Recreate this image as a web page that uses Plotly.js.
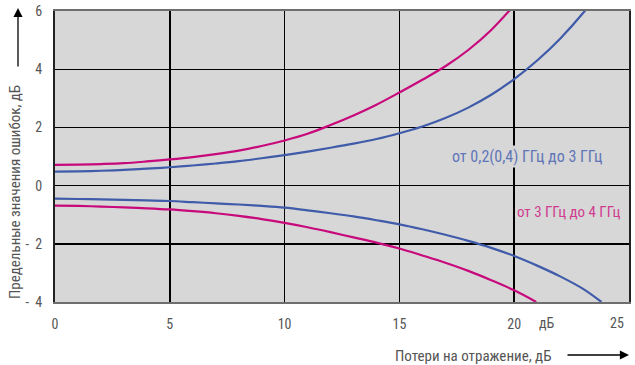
<!DOCTYPE html>
<html>
<head>
<meta charset="utf-8">
<script src="https://cdn.plot.ly/plotly-3.0.1.min.js"></script>
<style>html,body{margin:0;padding:0;background:#fff;}#chart{width:635px;height:365px;}</style>
</head>
<body>
<div id="chart"></div>
<script>
// Upper / lower limits, 0.2(0.4)–3 GHz (blue)
const blueUpperX = [0, 1, 2, 3, 4, 5, 6, 7, 8, 9, 10, 11, 12, 13, 14, 15, 16, 17, 18, 19, 20, 21, 22, 23, 23.5];
const blueUpperY = [0.48, 0.49, 0.51, 0.54, 0.58, 0.63, 0.69, 0.76, 0.84, 0.94, 1.05, 1.17, 1.30, 1.44, 1.60, 1.80, 2.03, 2.32, 2.68, 3.12, 3.66, 4.30, 5.05, 5.93, 6.45];
const blueLowerX = [0, 1, 2, 3, 4, 5, 6, 7, 8, 9, 10, 11, 12, 13, 14, 15, 16, 17, 18, 19, 20, 21, 22, 23, 23.8];
const blueLowerY = [-0.45, -0.46, -0.47, -0.49, -0.51, -0.53, -0.57, -0.61, -0.65, -0.70, -0.76, -0.85, -0.95, -1.06, -1.19, -1.33, -1.50, -1.69, -1.90, -2.14, -2.42, -2.75, -3.12, -3.55, -4.0];
// Upper / lower limits, 3–4 GHz (magenta)
const magUpperX = [0, 1, 2, 3, 4, 5, 6, 7, 8, 9, 10, 11, 12, 13, 14, 15, 16, 17, 18, 19, 20];
const magUpperY = [0.71, 0.72, 0.74, 0.77, 0.83, 0.90, 0.98, 1.08, 1.20, 1.36, 1.55, 1.78, 2.08, 2.41, 2.78, 3.20, 3.64, 4.10, 4.66, 5.35, 6.20];
const magLowerX = [0, 1, 2, 3, 4, 5, 6, 7, 8, 9, 10, 11, 12, 13, 14, 15, 16, 17, 18, 19, 20, 20.96];
const magLowerY = [-0.69, -0.70, -0.72, -0.75, -0.78, -0.82, -0.88, -0.95, -1.04, -1.15, -1.28, -1.43, -1.60, -1.78, -1.96, -2.16, -2.40, -2.65, -2.93, -3.25, -3.60, -4.0];

const xTicks = [0, 5, 10, 15, 20];
const xTickText = ['0', '5', '10', '15', '20'];
const yTicks = [-4, -2, 0, 2, 4, 6];
const yTickText = ['-\u20024', '-\u20022', '0', '2', '4', '6'];

const BLUE = '#3f5ba9';
const MAG = '#c8097c';
const FONT = '"Liberation Sans Narrow", "Arial Narrow", "Roboto Condensed", "Liberation Sans", sans-serif';
const GREY = '#555555';

const lineStyle = (c) => ({color: c, width: 2.2, shape: 'spline', smoothing: 1});
const traces = [
  {x: blueUpperX, y: blueUpperY, mode: 'lines', line: lineStyle(BLUE), hoverinfo: 'skip'},
  {x: blueLowerX, y: blueLowerY, mode: 'lines', line: lineStyle(BLUE), hoverinfo: 'skip'},
  {x: magUpperX, y: magUpperY, mode: 'lines', line: lineStyle(MAG), hoverinfo: 'skip'},
  {x: magLowerX, y: magLowerY, mode: 'lines', line: lineStyle(MAG), hoverinfo: 'skip'}
];

const layout = {
  width: 635, height: 365,
  margin: {l: 55, r: 6, t: 11, b: 63},
  paper_bgcolor: '#ffffff',
  plot_bgcolor: '#d7d7d7',
  showlegend: false,
  font: {family: FONT, color: GREY, size: 14},
  xaxis: {
    range: [0, 25], tickvals: xTicks, ticktext: xTickText,
    showgrid: true, gridcolor: '#000000', gridwidth: 1.6,
    zeroline: false, showline: true, linecolor: '#6e6e6e', linewidth: 2, mirror: true,
    ticks: 'outside', ticklen: 8, tickcolor: 'rgba(0,0,0,0)',
    tickfont: {family: FONT, size: 14, color: GREY}
  },
  yaxis: {
    range: [-4, 6], tickvals: yTicks, ticktext: yTickText,
    showgrid: true, gridcolor: '#000000', gridwidth: 1.4,
    zeroline: false, showline: true, linecolor: '#222222', linewidth: 2, mirror: true,
    ticks: 'outside', ticklen: 8, tickcolor: 'rgba(0,0,0,0)',
    tickfont: {family: FONT, size: 14, color: GREY}
  },
  annotations: [
    {x: 21.43, y: 0, xref: 'x', yref: 'paper', yanchor: 'middle', yshift: -21, text: 'дБ', showarrow: false,
     font: {family: FONT, size: 14, color: GREY}},
    {x: 24.48, y: 0, xref: 'x', yref: 'paper', yanchor: 'middle', yshift: -21, text: '25', showarrow: false,
     font: {family: FONT, size: 14, color: GREY}},
    {x: (528 - 55) / 23, y: (185.7 - 157) / 29, xref: 'x', yref: 'y', xanchor: 'center', yanchor: 'middle',
     text: 'от 0,2(0,4) ГГц до 3 ГГц', showarrow: false,
     bgcolor: '#d7d7d7', borderpad: 1, font: {family: FONT, size: 16, color: '#6176b8'}},
    {x: (570 - 55) / 23, y: (185.7 - 212) / 29, xref: 'x', yref: 'y', xanchor: 'center', yanchor: 'middle',
     text: 'от 3 ГГц до 4 ГГц', showarrow: false,
     font: {family: FONT, size: 15, color: '#d03d90'}},
    {x: (553 - 55) / 574, y: (302 - 356) / 291, xref: 'paper', yref: 'paper', xanchor: 'right', yanchor: 'middle',
     text: 'Потери на отражение, дБ', showarrow: false, font: {family: FONT, size: 15, color: GREY}},
    {x: (15 - 55) / 574, y: (302 - 192) / 291, xref: 'paper', yref: 'paper', xanchor: 'center', yanchor: 'middle',
     textangle: -90, text: 'Предельные значения ошибок, дБ', showarrow: false,
     font: {family: FONT, size: 15, color: GREY}},
    {x: (629 - 55) / 574, y: (302 - 355) / 291, xref: 'paper', yref: 'paper', text: '', showarrow: true,
     ax: -63, ay: 0, arrowhead: 2, arrowsize: 1.4, arrowwidth: 1.3, arrowcolor: '#000000'},
    {x: (18 - 55) / 574, y: (302 - 8) / 291, xref: 'paper', yref: 'paper', text: '', showarrow: true,
     ax: 0, ay: 60, arrowhead: 2, arrowsize: 1.4, arrowwidth: 1.3, arrowcolor: '#000000'}
  ]
};

Plotly.newPlot('chart', traces, layout, {staticPlot: true, displayModeBar: false});
</script>
</body>
</html>
